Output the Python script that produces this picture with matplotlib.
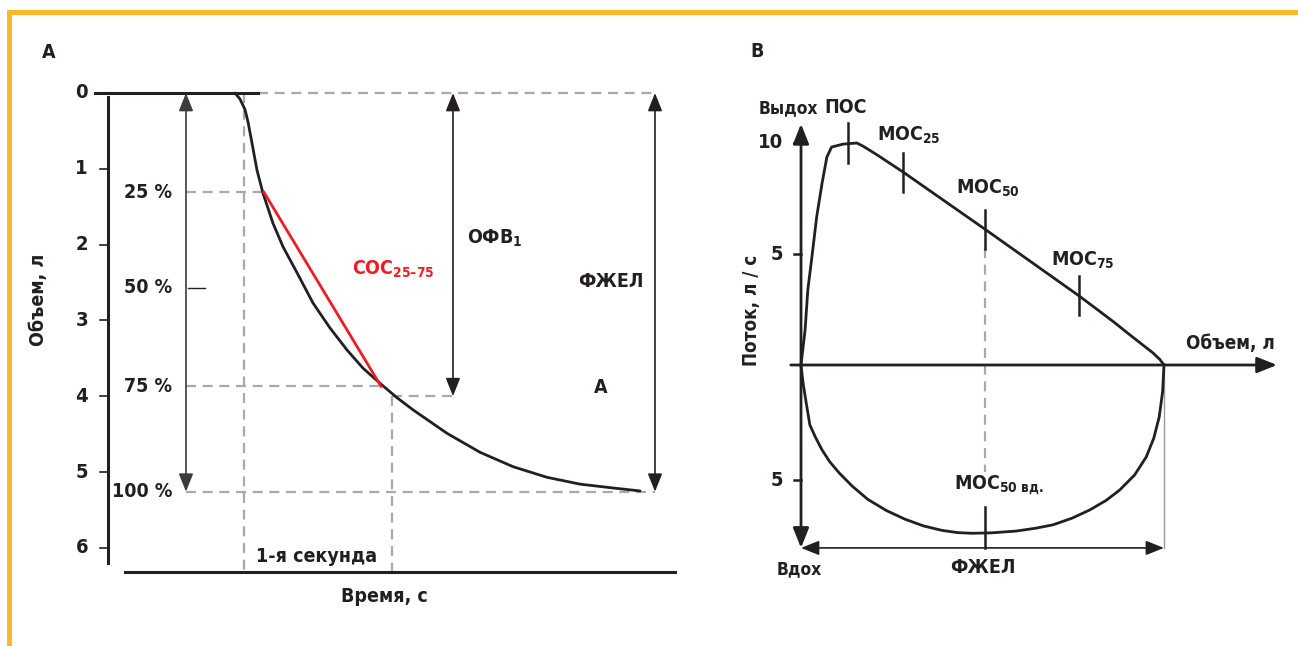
import matplotlib
matplotlib.use('Agg')
import matplotlib.pyplot as plt
from matplotlib import font_manager as fm
from matplotlib.patches import Rectangle

# pick a condensed bold face if one is installed
fonts = fm.fontManager.ttflist
names = {f.name for f in fonts}
has_dv_cond = any(f.name == 'DejaVu Sans' and f.stretch == 'condensed' for f in fonts)
if 'Liberation Sans Narrow' in names:
    FAMILY, PATTERN, SCALE = 'Liberation Sans Narrow', 'Liberation Sans Narrow:weight=bold', 1.0
elif has_dv_cond:
    FAMILY, PATTERN, SCALE = 'DejaVu Sans', 'DejaVu Sans:weight=bold:stretch=condensed', 1.0
else:
    FAMILY, PATTERN, SCALE = 'Liberation Sans', 'Liberation Sans:weight=bold', 0.9

plt.rcParams['font.family'] = [FAMILY, 'DejaVu Sans']
plt.rcParams['font.weight'] = 'bold'
if has_dv_cond and FAMILY == 'DejaVu Sans':
    plt.rcParams['font.stretch'] = 'condensed'
plt.rcParams['mathtext.fontset'] = 'custom'
plt.rcParams['mathtext.rm'] = PATTERN
plt.rcParams['mathtext.bf'] = PATTERN
plt.rcParams['mathtext.default'] = 'rm'

BLACK = '#231f20'
GRAY = '#a7a9ac'
RED = '#ed1c24'
ORANGE = '#fdb82a'
FS = 14 * SCALE

# --- panel A: spirogram (time, s / volume, l) ---
vol_ticks = [0, 1, 2, 3, 4, 5, 6]
curve_t = [-0.061, -0.027, 0.007, 0.027, 0.054, 0.088, 0.128, 0.196, 0.264, 0.358, 0.466,
           0.581, 0.696, 0.804, 0.919, 1.034, 1.142, 1.372, 1.595, 1.818, 2.047, 2.27,
           2.49, 2.676]
curve_v = [0.0, 0.08, 0.22, 0.38, 0.66, 1.02, 1.32, 1.72, 2.03, 2.37, 2.77,
           3.10, 3.39, 3.63, 3.83, 4.02, 4.18, 4.49, 4.74, 4.93, 5.07, 5.16,
           5.21, 5.25]
pct_labels = ['25 %', '50 %', '75 %', '100 %']
pct_vol = [1.31, 2.57, 3.87, 5.26]
fvc_a = 5.26
fev1 = 4.0
t25, t75 = 0.135, 0.926

# --- panel B: flow-volume loop (volume, l / flow, l/s) ---
exp_vol = [0.0, 0.06, 0.10, 0.16, 0.23, 0.31, 0.38, 0.45, 0.62, 0.82, 0.91, 1.12,
           1.50, 2.70, 4.08, 4.35, 4.60, 4.82, 5.02, 5.17, 5.27, 5.33]
exp_flow = [0.0, 1.58, 3.38, 4.86, 6.67, 8.2, 9.37, 9.82, 9.95, 10.0, 9.86, 9.46,
            8.69, 6.12, 3.12, 2.5, 1.92, 1.38, 0.9, 0.54, 0.25, 0.0]
insp_vol = [0.0, 0.03, 0.07, 0.13, 0.21, 0.31, 0.42, 0.56, 0.75, 0.98, 1.25, 1.53, 1.80, 2.07,
            2.30, 2.51, 2.80, 3.16, 3.45, 3.70, 3.98, 4.24, 4.48, 4.68, 4.90, 5.07, 5.18, 5.26,
            5.31, 5.33]
insp_flow = [0.0, -0.8, -1.58, -2.7, -3.24, -3.83, -4.35, -4.86, -5.45, -6.05, -6.55, -6.95,
             -7.25, -7.45, -7.55, -7.58, -7.56, -7.48, -7.35, -7.20, -6.90, -6.53, -6.10,
             -5.63, -4.95, -4.14, -3.30, -2.34, -1.2, 0.0]
fvc_b = 5.33
flow_ticks = [10, 5, -5.2]
flow_tick_labels = ['10', '5', '5']
mark_names = ['ПОС', r'МОС$_{25}$', r'МОС$_{50}$', r'МОС$_{75}$']
mark_vol = [0.69, 1.50, 2.70, 4.08]
mark_flow = [10.0, 8.69, 6.12, 3.12]

fig = plt.figure(figsize=(12.98, 6.46), dpi=100)

# orange frame (top and left)
fig.add_artist(Rectangle((7 / 1298, 0), 4.5 / 1298, 636 / 646, transform=fig.transFigure,
                         color=ORANGE, lw=0))
fig.add_artist(Rectangle((7 / 1298, 631 / 646), 1291 / 1298, 5 / 646, transform=fig.transFigure,
                         color=ORANGE, lw=0))


def arrow(ax, p0, p1, style='<|-|>', color=BLACK, lw=1.2, ms=20, hl=0.55, hw=0.22):
    ax.annotate('', xy=p1, xytext=p0, annotation_clip=False,
                arrowprops=dict(arrowstyle=f'{style},head_length={hl},head_width={hw}',
                                color=color, lw=lw, shrinkA=0, shrinkB=0, mutation_scale=ms))


# ================= panel A =================
axA = fig.add_axes([0, 0, 700 / 1298, 1])
axA.set_xlim(-244 / 148, 456 / 148)
axA.set_ylim(553 / 75.8, -93 / 75.8)
axA.axis('off')

dash = dict(color=GRAY, lw=1.6, ls=(0, (4.5, 3)), clip_on=False)
# guide lines
axA.plot([0.095, 2.777], [0, 0], **dash)
for v, t_end in zip([pct_vol[0], pct_vol[2]], [t25, t75]):
    axA.plot([-0.392, t_end], [v, v], **dash)
axA.plot([-0.392, 2.777], [fvc_a, fvc_a], **dash)
axA.plot([1.0, 1.446], [fev1, fev1], **dash)
axA.plot([0, 0], [0, 6.32], **dash)
axA.plot([1.0, 1.0], [fev1, 6.32], **dash)

# axes lines
axA.plot([-1.007, 0.095], [0, 0], color=BLACK, lw=2.2, clip_on=False)
axA.plot([-0.804, 2.912], [6.32, 6.32], color=BLACK, lw=2.2, clip_on=False)
axA.plot([-0.919, -0.919], [0.05, 6.2], color=BLACK, lw=2.2, clip_on=False)
for v in vol_ticks:
    if v > 0:
        axA.plot([-0.973, -0.919], [v, v], color=BLACK, lw=1.2, clip_on=False)
    axA.text(-1.054, v, str(v), ha='right', va='center', fontsize=FS + 0.5, color=BLACK)

# percentage arrow and labels
arrow(axA, (-0.392, fvc_a), (-0.392, 0), color='#3c3c3c', lw=1.2)
axA.plot([-0.378, -0.264], [pct_vol[1], pct_vol[1]], color=BLACK, lw=1.0, clip_on=False)
for lab, v in zip(pct_labels, pct_vol):
    axA.text(-0.486, v, lab, ha='right', va='center', fontsize=FS, color=BLACK)

# curve and FEF25-75 chord
axA.plot(curve_t, curve_v, color=BLACK, lw=2.0, solid_capstyle='round',
         solid_joinstyle='round', clip_on=False)
axA.plot([t25, t75], [pct_vol[0], pct_vol[2]], color=RED, lw=2.0, clip_on=False)

# FEV1 / FVC arrows
arrow(axA, (1.412, fev1), (1.412, 0))
arrow(axA, (2.777, fvc_a), (2.777, 0))

axA.text(1.507, 1.92, r'ОФВ$_{1}$', ha='left', va='center', fontsize=FS, color=BLACK)
axA.text(2.48, 2.49, 'ФЖЕЛ', ha='center', va='center', fontsize=FS, color=BLACK)
axA.text(2.41, 3.89, 'А', ha='center', va='center', fontsize=FS, color=BLACK)
axA.text(0.73, 2.32, r'СОС$_{25–75}$', ha='left', va='center', fontsize=FS, color=RED)
axA.text(0.49, 6.11, '1-я секунда', ha='center', va='center', fontsize=FS, color=BLACK)
axA.text(0.946, 6.64, 'Время, с', ha='center', va='center', fontsize=FS, color=BLACK)
axA.text(-1.39, 2.73, 'Объем, л', ha='center', va='center', rotation=90, fontsize=FS,
         color=BLACK)
axA.text(-1.32, -0.54, 'А', ha='center', va='center', fontsize=FS, color=BLACK)

# ================= panel B =================
axB = fig.add_axes([700 / 1298, 0, 598 / 1298, 1])
axB.set_xlim(-101 / 68.1, 497 / 68.1)
axB.set_ylim(-281 / 22.2, 365 / 22.2)
axB.axis('off')

# axes with arrows
arrow(axB, (-0.15, 0), (6.99, 0), style='-|>', lw=2.0, ms=20, hl=0.6, hw=0.24)
arrow(axB, (0, -8.24), (0, 10.86), style='<|-|>', lw=2.0, ms=20, hl=0.6, hw=0.24)
for f, lab in zip(flow_ticks, flow_tick_labels):
    axB.plot([-0.1, 0], [f, f], color=BLACK, lw=1.8, clip_on=False)
    axB.text(-0.26, f, lab, ha='right', va='center', fontsize=FS + 0.5, color=BLACK)

# FVC double arrow and helper lines
axB.plot([fvc_b, fvc_b], [0, -8.24], color='#9a9a9a', lw=1.0, clip_on=False)
arrow(axB, (0, -8.24), (fvc_b, -8.24), lw=1.2)
axB.plot([mark_vol[2], mark_vol[2]], [mark_flow[2] - 0.85, -4.8], **dash)

# loop
axB.plot(exp_vol, exp_flow, color=BLACK, lw=2.0, solid_joinstyle='round', clip_on=False)
axB.plot(insp_vol, insp_flow, color=BLACK, lw=2.0, solid_joinstyle='round', clip_on=False)

# tick marks on the curve
for v, f in zip(mark_vol, mark_flow):
    axB.plot([v, v], [f - 0.88, f + 0.88], color=BLACK, lw=1.8, clip_on=False)
axB.plot([mark_vol[2], mark_vol[2]], [-6.4, -8.24], color=BLACK, lw=1.8, clip_on=False)

# labels
axB.text(-0.18, 11.58, 'Выдох', ha='center', va='center', fontsize=FS - 1.5, color=BLACK)
axB.text(0.66, 11.58, mark_names[0], ha='center', va='center', fontsize=FS, color=BLACK)
axB.text(1.12, 10.36, mark_names[1], ha='left', va='center', fontsize=FS, color=BLACK)
axB.text(2.28, 7.97, mark_names[2], ha='left', va='center', fontsize=FS, color=BLACK)
axB.text(3.67, 4.73, mark_names[3], ha='left', va='center', fontsize=FS, color=BLACK)
axB.text(2.25, -5.4, r'МОС$_{50\ вд.}$', ha='left', va='center', fontsize=FS, color=BLACK)
axB.text(6.96, 0.99, 'Объем, л', ha='right', va='center', fontsize=FS - 0.5, color=BLACK)
axB.text(-0.72, 2.48, 'Поток, л / с', ha='center', va='center', rotation=90,
         fontsize=FS - 0.5, color=BLACK)
axB.text(-0.03, -9.19, 'Вдох', ha='center', va='center', fontsize=FS - 1.5, color=BLACK)
axB.text(2.67, -9.1, 'ФЖЕЛ', ha='center', va='center', fontsize=FS, color=BLACK)
axB.text(-0.65, 14.1, 'В', ha='center', va='center', fontsize=FS, color=BLACK)

fig.savefig('out.png', dpi=100)
